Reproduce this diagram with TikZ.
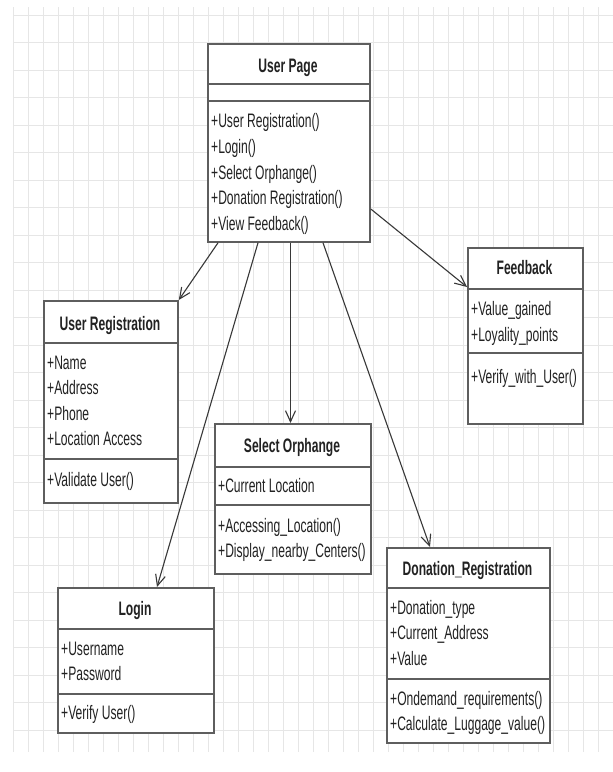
\documentclass[tikz,border=0pt]{standalone}
\usepackage{fontspec}
\setmainfont{Liberation Sans}[FakeStretch=0.62]
\usetikzlibrary{arrows.meta,calc}

\definecolor{gridgray}{HTML}{E6E6E6}
\definecolor{boxgray}{HTML}{5E5E5E}
\definecolor{inkgray}{HTML}{222222}

\tikzset{
  umlbox/.style={draw=boxgray, line width=1.8pt, fill=white, inner sep=0pt, anchor=north west},
  divider/.style={draw=boxgray, line width=1.8pt},
  classtitle/.style={inner sep=0pt, text=inkgray, font=\fontsize{19.5}{23}\selectfont\bfseries, anchor=base},
  member/.style={inner sep=0pt, text=inkgray, font=\fontsize{19.5}{23}\selectfont, anchor=base west},
  assoc/.style={draw=inkgray!90, line width=1.1pt, -{Straight Barb[length=11pt,width=10pt,line width=1.1pt]}}
}

\begin{document}
\begin{tikzpicture}[x=1pt,y=-1pt]
\useasboundingbox (0,0) rectangle (613,772);
\fill[white] (0,0) rectangle (613,772);

% background grid
\foreach \gx in {13,28,...,613} \draw[gridgray, line width=0.8pt] (\gx,7) -- (\gx,752);
\foreach \gy in {15,42.5,...,752} \draw[gridgray, line width=0.8pt] (13,\gy) -- (613,\gy);

% ---------- User Page ----------
\node[umlbox, minimum width=162pt, minimum height=198pt] (up) at (207,43) {};
\draw[divider] (207,84) -- (369,84);
\draw[divider] (207,101) -- (369,101);
\node[classtitle] (upT) at (288,72) {User Page};
\node[member] (up1) at (211,127) {+User Registration()};
\node[member] (up2) at (211,153) {+Login()};
\node[member] (up3) at (211,179) {+Select Orphange()};
\node[member] (up4) at (211,204) {+Donation Registration()};
\node[member] (up5) at (211,230) {+View Feedback()};

% ---------- User Registration ----------
\node[umlbox, minimum width=134pt, minimum height=202pt] (ur) at (43,300) {};
\draw[divider] (43,343) -- (177,343);
\draw[divider] (43,459) -- (177,459);
\node[classtitle] (urT) at (110,330) {User Registration};
\node[member] (ur1) at (47,369) {+Name};
\node[member] (ur2) at (47,394) {+Address};
\node[member] (ur3) at (47,420) {+Phone};
\node[member] (ur4) at (47,445) {+Location Access};
\node[member] (ur5) at (47,486) {+Validate User()};

% ---------- Feedback ----------
\node[umlbox, minimum width=115pt, minimum height=176pt] (fb) at (467,247) {};
\draw[divider] (467,289) -- (582,289);
\draw[divider] (467,353) -- (582,353);
\node[classtitle] (fbT) at (524.5,274) {Feedback};
\node[member] (fb1) at (471,315) {+Value\_gained};
\node[member] (fb2) at (471,341) {+Loyality\_points};
\node[member] (fb3) at (471,383) {+Verify\_with\_User()};

% ---------- Select Orphange ----------
\node[umlbox, minimum width=156pt, minimum height=150pt] (so) at (214,423) {};
\draw[divider] (214,467) -- (370,467);
\draw[divider] (214,505) -- (370,505);
\node[classtitle] (soT) at (292,452) {Select Orphange};
\node[member] (so1) at (218,492) {+Current Location};
\node[member] (so2) at (218,532) {+Accessing\_Location()};
\node[member] (so3) at (218,557) {+Display\_nearby\_Centers()};

% ---------- Login ----------
\node[umlbox, minimum width=156pt, minimum height=145pt] (lg) at (57,587) {};
\draw[divider] (57,629) -- (213,629);
\draw[divider] (57,694) -- (213,694);
\node[classtitle] (lgT) at (135,615) {Login};
\node[member] (lg1) at (61,655) {+Username};
\node[member] (lg2) at (61,680) {+Password};
\node[member] (lg3) at (61,719) {+Verify User()};

% ---------- Donation_Registration ----------
\node[umlbox, minimum width=163pt, minimum height=195pt] (dr) at (386,547) {};
\draw[divider] (386,588) -- (549,588);
\draw[divider] (386,679) -- (549,679);
\node[classtitle] (drT) at (467.5,575) {Donation\_Registration};
\node[member] (dr1) at (390,614) {+Donation\_type};
\node[member] (dr2) at (390,639) {+Current\_Address};
\node[member] (dr3) at (390,665) {+Value};
\node[member] (dr4) at (390,705) {+Ondemand\_requirements()};
\node[member] (dr5) at (390,730) {+Calculate\_Luggage\_value()};

% ---------- associations ----------
\draw[assoc] ($(up.south west)+(11,0)$) -- (ur.north east);
\draw[assoc] ($(up.south west)+(51,0)$) -- ($(lg.north west)+(100,0)$);
\draw[assoc] ($(up.south west)+(83.5,0)$) -- ($(so.north west)+(76.5,0)$);
\draw[assoc] ($(up.south west)+(116,0)$) -- ($(dr.north west)+(44,0)$);
\draw[assoc] ($(up.north east)+(0,166)$) -- ($(fb.north west)+(0,40)$);
\end{tikzpicture}
\end{document}
